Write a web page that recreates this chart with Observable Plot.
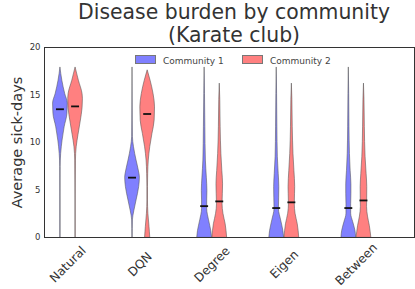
<!DOCTYPE html>
<html>
<head>
<meta charset="utf-8">
<script src="https://cdn.jsdelivr.net/npm/d3@7"></script>
<script src="https://cdn.jsdelivr.net/npm/@observablehq/plot@0.6"></script>
<style>
  html, body { margin: 0; padding: 0; background: #fff; }
  #wrap { position: relative; width: 415px; height: 289px; font-family: "DejaVu Sans", sans-serif; color: #333; }
  #title { position: absolute; left: 53px; top: 1px; width: 362px; text-align: center; font-size: 20.4px; line-height: 23px; color: #333; white-space: nowrap; }
  .leg { position: absolute; top: 55px; font-size: 9px; color: #444; white-space: nowrap; line-height: 12px; }
  .sw { display: inline-block; width: 19px; height: 7px; border: 0.8px solid #777; vertical-align: -0px; margin-right: 7px; }
</style>
</head>
<body>
<div id="wrap">
  <div id="chart"></div>
  <div id="title"></div>
  <div id="legend"></div>
</div>
<script>
const categories = ["Natural", "DQN", "Degree", "Eigen", "Between"];
const communities = ["Community 1", "Community 2"];
const communityColors = ["#8080ff", "#ff8080"];
const yTicks = [0, 5, 10, 15, 20];
const titleLines = ["Disease burden by community", "(Karate club)"];
const yLabel = "Average sick-days";

// violin outlines: [value, relative half-width]
const naturalC1 = [[0, 0.02], [4, 0.02], [7.4, 0.03], [8.8, 0.1], [10.2, 0.29], [11.6, 0.57], [13, 0.95], [14.1, 1.0], [15.1, 0.65], [16.5, 0.26], [17.9, 0]];
const naturalC2 = [[0, 0.02], [4, 0.02], [8.1, 0.05], [9.5, 0.15], [10.8, 0.4], [12.2, 0.7], [13.6, 0.95], [14.6, 1.0], [15.1, 0.95], [16.5, 0.45], [17.9, 0]];
const dqnC1 = [[0, 0.02], [1.8, 0.05], [2.8, 0.25], [3.9, 0.55], [5.3, 0.9], [6.3, 1.0], [7.05, 0.85], [8.1, 0.55], [9.5, 0.2], [10.6, 0.05], [14, 0.02], [17.9, 0]];
const dqnC2 = [[0, 0.35], [1.1, 0.25], [2.5, 0.1], [3.9, 0.04], [5.3, 0.04], [6.7, 0.07], [8.1, 0.15], [9.5, 0.35], [10.9, 0.65], [12.3, 0.95], [13.7, 1.0], [15.1, 0.8], [16.5, 0.4], [17.6, 0]];
const degreeC1 = [[0, 1.0], [0.7, 0.9], [1.8, 0.6], [3.0, 0.35], [3.9, 0.35], [4.9, 0.38], [6.3, 0.3], [8.1, 0.17], [11.6, 0.1], [15.1, 0.05], [17.9, 0]];
const degreeC2 = [[0, 1.0], [1.4, 0.8], [2.5, 0.5], [3.5, 0.38], [4.6, 0.42], [5.6, 0.45], [7.0, 0.35], [8.8, 0.22], [11.6, 0.12], [14.5, 0.07], [16.2, 0]];
const eigenC1 = [[0, 1.0], [0.7, 0.9], [1.8, 0.6], [3.0, 0.3], [4.2, 0.33], [5.3, 0.35], [6.7, 0.27], [8.5, 0.15], [11.6, 0.09], [15.1, 0.05], [17.9, 0]];
const eigenC2 = [[0, 1.0], [1.4, 0.8], [2.5, 0.5], [3.5, 0.4], [4.6, 0.43], [5.3, 0.45], [7.0, 0.35], [8.8, 0.22], [11.6, 0.12], [14.5, 0.07], [16.2, 0]];
const betweenC1 = [[0, 1.0], [0.7, 0.9], [1.6, 0.6], [2.5, 0.32], [3.5, 0.32], [4.6, 0.35], [5.6, 0.35], [7.0, 0.25], [8.8, 0.15], [11.6, 0.09], [15.1, 0.05], [17.9, 0]];
const betweenC2 = [[0, 1.0], [1.2, 0.8], [2.2, 0.55], [3.2, 0.42], [4.2, 0.44], [5.3, 0.45], [6.7, 0.36], [8.5, 0.22], [11.6, 0.12], [14.5, 0.07], [16.2, 0]];

const mediansC1 = [13.5, 6.3, 3.3, 3.1, 3.1];
const mediansC2 = [13.8, 13.0, 3.8, 3.7, 3.9];

const shapes = [
  [naturalC1, naturalC2],
  [dqnC1, dqnC2],
  [degreeC1, degreeC2],
  [eigenC1, eigenC2],
  [betweenC1, betweenC2]
];

// layout constants (sizes, not data)
const OFF = 0.105;   // offset of each violin from its group centre (x units)
const HW = 0.102;    // maximal half-width of a violin (x units)
const MHW = 0.055;   // half-length of a median tick

const rows = [];
shapes.forEach((pair, i) => {
  pair.forEach((shape, j) => {
    const c = i + (j === 0 ? -OFF : OFF);
    shape.slice().sort((a, b) => a[0] - b[0]).forEach(([v, w]) => {
      rows.push({key: categories[i] + "|" + communities[j], comm: communities[j], v, x1: c - w * HW, x2: c + w * HW});
    });
  });
});

const medRows = [];
categories.forEach((cat, i) => {
  [mediansC1, mediansC2].forEach((arr, j) => {
    const c = i + (j === 0 ? -OFF : OFF);
    medRows.push({m: arr[i], x1: c - MHW, x2: c + MHW});
  });
});

const chart = Plot.plot({
  width: 415,
  height: 289,
  marginTop: 47,
  marginBottom: 52,
  marginLeft: 44,
  marginRight: 1,
  style: {fontFamily: "DejaVu Sans, sans-serif", fontSize: "8.5px", color: "#333", background: "transparent"},
  x: {domain: [-0.326, 4.806], axis: null},
  y: {domain: [0, 20], ticks: yTicks, tickSize: 0, tickPadding: 4, label: null},
  color: {domain: communities, range: communityColors},
  marks: [
    Plot.areaX(rows, {y: "v", x1: "x1", x2: "x2", z: "key", fill: "comm", stroke: "#555", strokeWidth: 0.7, strokeOpacity: 0.8, curve: "monotone-y"}),
    Plot.ruleY(medRows, {y: "m", x1: "x1", x2: "x2", stroke: "#111", strokeWidth: 1.8}),
    Plot.frame({stroke: "#333", strokeWidth: 1}),
    Plot.text(categories, {x: (d, i) => i, text: d => d, frameAnchor: "bottom", textAnchor: "middle", lineAnchor: "middle", dy: 27, rotate: -45, fontSize: 12.2, fill: "#333"}),
    Plot.text([yLabel], {text: d => d, frameAnchor: "left", textAnchor: "middle", lineAnchor: "middle", dx: -27, rotate: -90, fontSize: 14.5, fill: "#333"})
  ]
});
document.getElementById("chart").appendChild(chart);

document.getElementById("title").innerHTML = titleLines.join("<br>");

const legend = document.getElementById("legend");
const legLeft = [135, 242];
communities.forEach((c, j) => {
  const d = document.createElement("div");
  d.className = "leg";
  d.style.left = legLeft[j] + "px";
  const sw = document.createElement("span");
  sw.className = "sw";
  sw.style.background = communityColors[j];
  d.appendChild(sw);
  d.appendChild(document.createTextNode(c));
  legend.appendChild(d);
});
</script>
</body>
</html>
